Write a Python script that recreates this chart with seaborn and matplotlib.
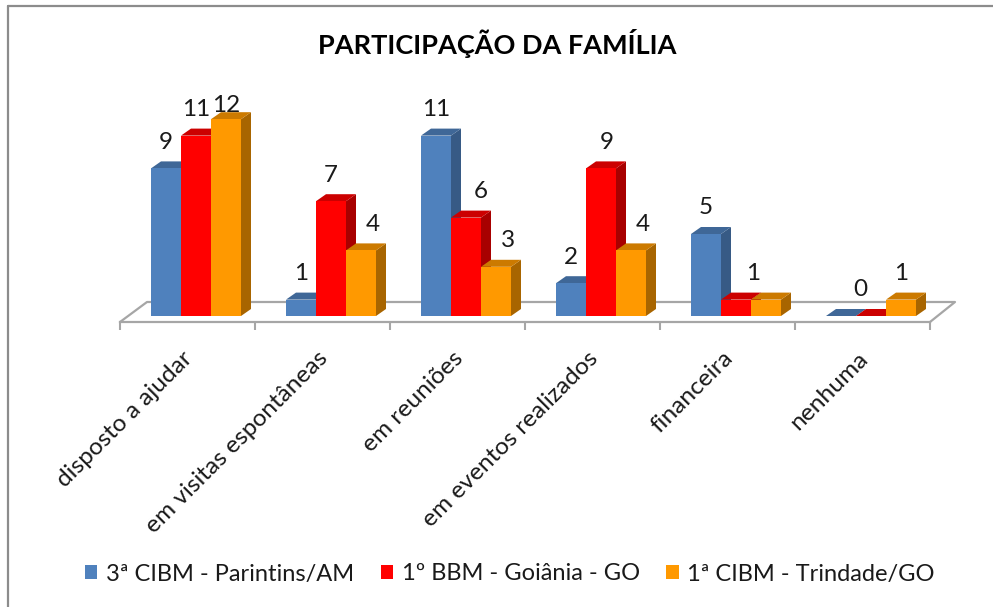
import matplotlib
matplotlib.use("Agg")
import matplotlib.pyplot as plt
from matplotlib.lines import Line2D
from matplotlib.patches import Polygon
from matplotlib.ticker import FixedLocator
from matplotlib.transforms import ScaledTranslation
import pandas as pd
import seaborn as sns

title = "PARTICIPAÇÃO DA FAMÍLIA"
categories = ["disposto a ajudar", "em visitas espontâneas", "em reuniões",
              "em eventos realizados", "financeira", "nenhuma"]
series_names = ["3ª CIBM - Parintins/AM", "1º BBM - Goiânia - GO", "1ª CIBM - Trindade/GO"]
parintins = [9, 1, 11, 2, 5, 0]
goiania = [11, 7, 6, 9, 1, 0]
trindade = [12, 4, 3, 4, 1, 1]

front_colors = ["#4F81BD", "#FF0000", "#FF9900"]
top_colors = ["#3F6797", "#CC0000", "#CC7A00"]
side_colors = ["#375A85", "#A80000", "#A86500"]
GRAY = "#A6A6A6"

W, H = 993, 607
PX_X = 135.0          # pixels per category
PX_Y = 16.4           # pixels per value unit
DEPTH_X, DEPTH_Y = 10 / PX_X, 7 / PX_Y

sns.set_theme(style="white")
plt.rcParams["font.family"] = ["Lato", "DejaVu Sans"]

df = pd.DataFrame({
    "categoria": categories * 3,
    "serie": [s for s in series_names for _ in categories],
    "valor": parintins + goiania + trindade,
})

fig = plt.figure(figsize=(W / 100, H / 100), dpi=100, facecolor="white")
left, right, bottom, top = 120, 930, 322, 60
ax = fig.add_axes([left / W, 1 - bottom / H, (right - left) / W, (bottom - top) / H])
ax.patch.set_alpha(0)

sns.barplot(data=df, x="categoria", y="valor", hue="serie", hue_order=series_names,
            order=categories, palette=front_colors, width=90 / PX_X, gap=0,
            saturation=1, linewidth=0, ax=ax, legend=True, errorbar=None)

ax.set_xlim((left - 196) / PX_X, (right - 196) / PX_X)
ax.set_ylim((316 - bottom) / PX_Y, (316 - top) / PX_Y)
ax.set_xlabel("")
ax.set_ylabel("")
ax.set_yticks([])
for s in ["top", "left", "right"]:
    ax.spines[s].set_visible(False)
ax.spines["bottom"].set_color(GRAY)
ax.spines["bottom"].set_linewidth(1.6)

# Floor back edges, continuing the front spine
x0, x1 = ax.get_xlim()
y0 = ax.get_ylim()[0]
fx, fy = 27 / PX_X, 20 / PX_Y
ax.add_line(Line2D([x0, x0 + fx, x1 + fx - 2 / PX_X, x1], [y0, y0 + fy, y0 + fy, y0],
                   color=GRAY, lw=1.6, clip_on=False, zorder=0.5))

# Category boundary ticks
ax.xaxis.set_minor_locator(FixedLocator([x0 + i for i in range(len(categories) + 1)]))
ax.tick_params(axis="x", which="minor", length=6, width=1.5, color=GRAY, bottom=True)
ax.tick_params(axis="x", which="major", length=0, pad=17)
ax.set_xticks(range(len(categories)))
ax.set_xticklabels(categories, rotation=45, ha="right", va="top",
                   rotation_mode="anchor", fontsize=17.6, color="#1a1a1a")
shift = ScaledTranslation(-14 / 100, -2 / 100, fig.dpi_scale_trans)
for lbl in ax.get_xticklabels():
    lbl.set_transform(lbl.get_transform() + shift)

# Manual adjustments for labels as placed in the reference: (dx px, dy px), None = hidden
label_nudge = {
    (0, 5): None, (2, 4): None,
    (2, 0): (0, 12), (2, 1): (12, 0), (2, 2): (12, 0), (2, 3): (12, 0),
    (1, 2): (15, 0), (1, 3): (6, 0), (1, 4): (17, 0), (1, 5): (-11, 0),
}

n_cat = len(categories)
bars = list(ax.patches)[:3 * n_cat]
ordered = sorted(range(len(bars)), key=lambda k: bars[k].get_x())
for rank, k in enumerate(ordered):
    bar = bars[k]
    s_idx, c_idx = k // n_cat, k % n_cat
    xa, w, h = bar.get_x(), bar.get_width(), bar.get_height()
    z = 2 + rank * 0.1
    bar.set_zorder(z + 0.05)
    ax.add_patch(Polygon([(xa + w, 0), (xa + w + DEPTH_X, DEPTH_Y), (xa + w + DEPTH_X, h + DEPTH_Y), (xa + w, h)],
                         closed=True, fc=side_colors[s_idx], ec="none", zorder=z, clip_on=False))
    ax.add_patch(Polygon([(xa, h), (xa + DEPTH_X, h + DEPTH_Y), (xa + w + DEPTH_X, h + DEPTH_Y), (xa + w, h)],
                         closed=True, fc=top_colors[s_idx], ec="none", zorder=z, clip_on=False))
    nudge = label_nudge.get((s_idx, c_idx), (0, 0))
    if nudge is None:
        continue
    ax.annotate(f"{h:.0f}", (xa + w / 2, h), xytext=(nudge[0], 26 + nudge[1] * -1),
                textcoords="offset pixels", ha="center", va="center",
                fontsize=17.5, color="#1a1a1a", zorder=20, annotation_clip=False)

# Legend
handles, labels = ax.get_legend_handles_labels()
ax.get_legend().remove()
fig.legend(handles, labels, ncol=3, loc="center", bbox_to_anchor=(510 / W, 1 - 574 / H),
           frameon=False, fontsize=17.0, handlelength=0.52, handleheight=0.52,
           handletextpad=0.37, columnspacing=1.12, labelcolor="#1a1a1a")

fig.text(497 / W, 1 - 44 / H, title, ha="center", va="center", fontsize=19.5,
         fontweight="bold", color="black")

# Chart frame: left and top edges only
frame = dict(color="#8C8C8C", lw=1.6, transform=fig.transFigure)
fig.add_artist(Line2D([8 / W, 8 / W], [0, 1 - 6 / H], **frame))
fig.add_artist(Line2D([8 / W, 1], [1 - 6 / H, 1 - 6 / H], **frame))

fig.savefig("out.png", dpi=100)
